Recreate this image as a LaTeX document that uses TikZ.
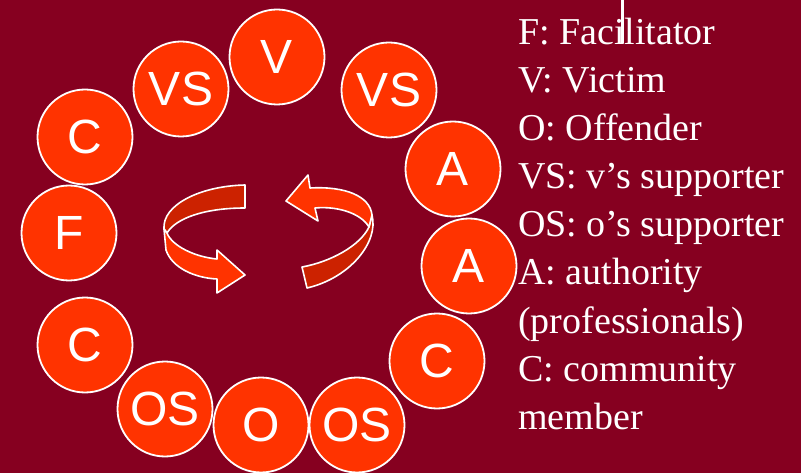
\documentclass[tikz,border=0pt]{standalone}
\usepackage{fontspec}
\setmainfont{Liberation Serif}
\newfontfamily\circfont{Liberation Sans}
\definecolor{bgred}{RGB}{134,0,32}
\definecolor{circ}{RGB}{255,51,0}
\definecolor{darkarrow}{RGB}{204,34,0}
\begin{document}
\begin{tikzpicture}[x=1pt,y=-1pt,
  person/.style={circle, fill=circ, draw=white, line width=1.8pt, minimum size=95pt, inner sep=0pt, text=white, font=\circfont\fontsize{48}{48}\selectfont},
  legend/.style={anchor=base west, text=white, inner sep=0pt, font=\fontsize{38}{38}\selectfont},
  ribbonback/.style={fill=darkarrow, draw=white, line width=1.6pt, line join=round},
  ribbonfront/.style={fill=circ, draw=white, line width=1.6pt, line join=round}]
\fill[bgred] (0,0) rectangle (801,473);
\useasboundingbox (0,0) rectangle (801,473);

% circles
\node[person] (v)   at (277,57)  {V};
\node[person] (vsl) at (181,89)  {VS};
\node[person] (ctl) at (85,137)  {C};
\node[person] (vsr) at (389,90)  {VS};
\node[person] (au)  at (453,169) {A};
\node[person] (al)  at (469,266) {A};
\node[person] (f)   at (69,233)  {F};
\node[person] (cbl) at (85,345)  {C};
\node[person] (osl) at (165,409) {OS};
\node[person] (o)   at (261,425) {O};
\node[person] (osr) at (357,425) {OS};
\node[person] (cr)  at (437,361) {C};

% left curved arrow
\draw[ribbonback] (245,185) -- (245,208)
  .. controls (205,208) and (176,218) .. (167,233)
  -- (164,229) .. controls (162,205) and (200,186) .. (245,185) -- cycle;
\draw[ribbonfront] (164,229) -- (166,250)
  .. controls (172,268) and (195,278) .. (217,279)
  -- (217,293) -- (245,275) -- (217,250) -- (217,259)
  .. controls (195,257) and (172,246) .. (167,233) -- cycle;

% right curved arrow
\draw[ribbonback] (372,215)
  .. controls (379,242) and (350,278) .. (307,288)
  -- (302,267) .. controls (330,262) and (360,246) .. (369,227) -- cycle;
\draw[ribbonfront] (286,201) -- (308,175) -- (310,188)
  .. controls (345,186) and (370,196) .. (372,215)
  -- (369,227) .. controls (360,212) and (335,206) .. (315,208)
  -- (318,221) -- cycle;

% legend
\node[legend] (l1) at (518,45)  {F: Facilitator};
\node[legend] (l2) at (518,93)  {V: Victim};
\node[legend] (l3) at (518,141) {O: Offender};
\node[legend] (l4) at (518,189) {VS: v’s supporter};
\node[legend] (l5) at (518,237) {OS: o’s supporter};
\node[legend] (l6) at (518,285) {A: authority};
\node[legend] (l7) at (518,333) {(professionals)};
\node[legend] (l8) at (518,381) {C: community};
\node[legend] (l9) at (518,429) {member};

% thin white mark at top
\draw[white, line width=3pt] (622.5,0) -- (622.5,43);
\end{tikzpicture}
\end{document}
